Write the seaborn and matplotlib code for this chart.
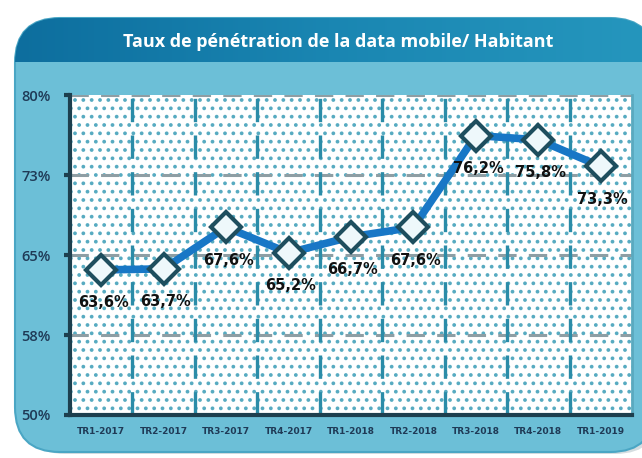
import matplotlib
matplotlib.use("Agg")
import matplotlib.pyplot as plt
import seaborn as sns
import numpy as np
from matplotlib.patches import FancyBboxPatch, Rectangle
from matplotlib.colors import LinearSegmentedColormap

quarters = ["TR1-2017", "TR2-2017", "TR3-2017", "TR4-2017", "TR1-2018",
            "TR2-2018", "TR3-2018", "TR4-2018", "TR1-2019"]
rates = [63.6, 63.7, 67.6, 65.2, 66.7, 67.6, 76.2, 75.8, 73.3]
value_labels = ["63,6%", "63,7%", "67,6%", "65,2%", "66,7%", "67,6%", "76,2%", "75,8%", "73,3%"]
y_ticks = [50, 57.5, 65, 72.5, 80]
y_tick_labels = ["50%", "58%", "65%", "73%", "80%"]
title = "Taux de pénétration de la data mobile/ Habitant"

sns.set_theme(style="white")
plt.rcParams['font.family'] = ['Open Sans', 'DejaVu Sans']
plt.rcParams['hatch.linewidth'] = 1.5

W, H = 642, 458
fig = plt.figure(figsize=(W / 100, H / 100), dpi=100)
fig.patch.set_facecolor("white")

# shadow + panel
shadow = FancyBboxPatch((20 / W, 4 / H), 640 / W, 434 / H,
                        boxstyle="round,pad=0,rounding_size=0.07",
                        transform=fig.transFigure, facecolor="#b9c7cc",
                        edgecolor="none", alpha=0.6, zorder=0, mutation_aspect=W / H)
fig.patches.append(shadow)
panel = FancyBboxPatch((15 / W, 6 / H), 640 / W, 434 / H,
                       boxstyle="round,pad=0,rounding_size=0.07",
                       transform=fig.transFigure, facecolor="#6cbfd7",
                       edgecolor="#4aa6c4", linewidth=1.5, zorder=1, mutation_aspect=W / H)
fig.patches.append(panel)

# header with gradient
hax = fig.add_axes([15 / W, 1 - 62 / H, 627 / W, 44 / H])
hax.set_zorder(2)
hax.axis("off")
grad = np.linspace(0, 1, 256).reshape(1, -1)
cmap = LinearSegmentedColormap.from_list("hdr", ["#0d6e9e", "#1a86b2", "#2596bd"])
im = hax.imshow(grad, aspect="auto", cmap=cmap, extent=[0, 1, 0, 1], origin="lower")
hax.set_xlim(0, 1)
hax.set_ylim(0, 1)
im.set_clip_path(panel)
fig.text(338 / W, 1 - 42 / H, title, color="white", fontsize=13, fontweight="bold",
         ha="center", va="center", zorder=5)

ax = fig.add_axes([70 / W, (H - 415) / H, (632 - 70) / W, (415 - 95) / H])
ax.set_zorder(3)
ax.set_facecolor("white")

# dotted texture
ax.add_patch(Rectangle((0, 0), 1, 1, transform=ax.transAxes, facecolor="white",
                       edgecolor="#57abc1", hatch="..", linewidth=0, zorder=0))

sns.lineplot(x=quarters, y=rates, ax=ax, sort=False, color="#1877c6", linewidth=5.5,
             marker="D", markersize=15, markerfacecolor="#eef8fb",
             markeredgecolor="#1e4e5e", markeredgewidth=3, zorder=6)

ax.set_xlim(-0.5, len(quarters) - 0.5)
ax.set_ylim(50, 80)
ax.set_yticks(y_ticks)
ax.set_yticklabels(y_tick_labels)
ax.set_xticks(range(len(quarters)))
ax.set_xticklabels(quarters)

for yv in y_ticks[1:]:
    ax.axhline(yv, color="#8e9ea4", linestyle=(0, (6, 4)), linewidth=2.2, zorder=2)
for i in range(len(quarters) - 1):
    ax.axvline(i + 0.5, color="#2b8ca8", linestyle=(0, (7, 4)), linewidth=2.4, zorder=2)

for i, (v, lab) in enumerate(zip(rates, value_labels)):
    ax.annotate(lab, (i, v), textcoords="offset pixels", xytext=(2, -33),
                ha="center", va="center", fontsize=10.5, fontweight="bold",
                color="#111111", zorder=8, family="DejaVu Sans")

ax.spines["top"].set_visible(False)
ax.spines["right"].set_color("#5aa9bf")
ax.spines["right"].set_linewidth(2)
for s in ["left", "bottom"]:
    ax.spines[s].set_color("#1d3f4e")
    ax.spines[s].set_linewidth(3)

ax.tick_params(axis="y", length=4, width=3, color="#1d3f4e", labelsize=10.5,
               labelcolor="#1f3a56", pad=10, left=True)
ax.tick_params(axis="x", length=0, labelsize=6.5, labelcolor="#1f3a56", pad=9)
for t in ax.get_yticklabels():
    t.set_fontweight("semibold")
for t in ax.get_xticklabels():
    t.set_fontweight("bold")
    t.set_family("DejaVu Sans")
ax.set_xlabel("")
ax.set_ylabel("")

fig.savefig("out.png", dpi=100)
